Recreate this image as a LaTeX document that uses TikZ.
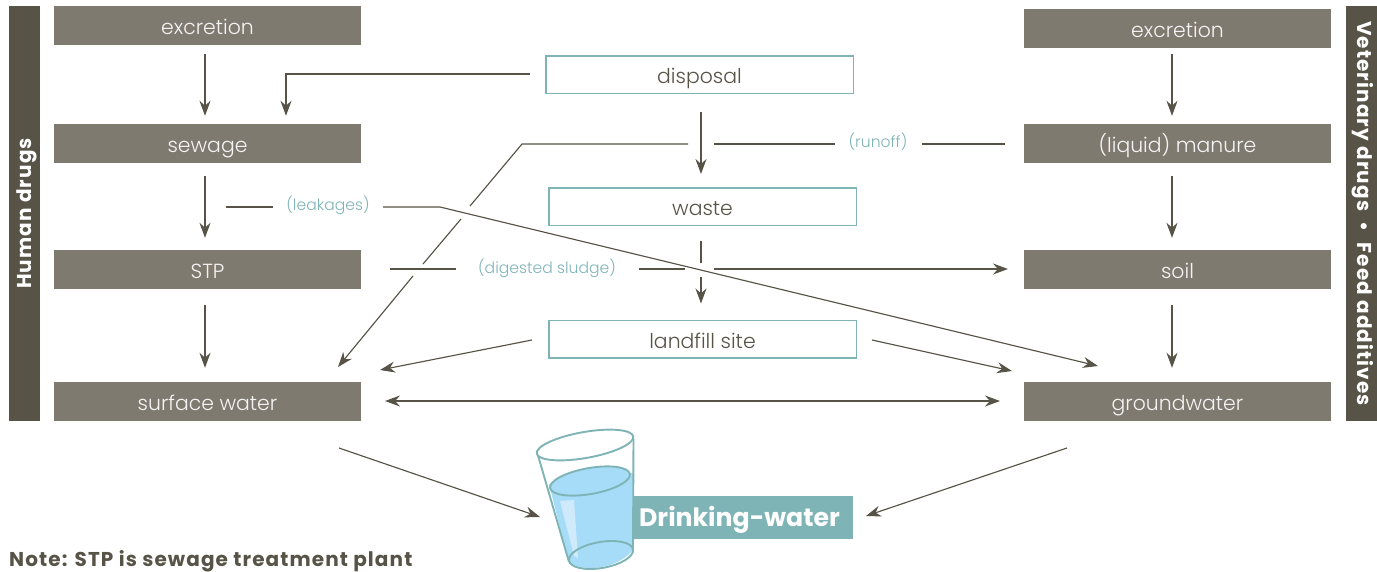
\documentclass[tikz,border=0pt]{standalone}
\usepackage{fontspec}
\setmainfont{Poppins}[UprightFont=* Light,BoldFont=* Bold]
\newfontfamily\widebold{Poppins}[UprightFont=* Bold,LetterSpace=5.5]
\usetikzlibrary{arrows.meta}
\definecolor{boxgray}{HTML}{7F7A70}
\definecolor{sidegray}{HTML}{575347}
\definecolor{lineg}{HTML}{575347}
\definecolor{teal}{HTML}{7FB4B6}
\definecolor{water}{HTML}{A6DCF8}
\definecolor{shine}{HTML}{CFEBFB}
\tikzset{
  gbox/.style={fill=boxgray,text=white!92!boxgray,minimum width=307pt,minimum height=39pt,inner sep=0pt,text height=23pt,text depth=5pt,font=\fontsize{20.4}{25}\selectfont},
  wbox/.style={draw=teal,line width=1.5pt,fill=white,text=lineg,minimum width=307.5pt,minimum height=37.5pt,inner sep=0pt,text height=23pt,text depth=5pt,font=\fontsize{20.4}{25}\selectfont},
  sidebar/.style={fill=sidegray,text=white,rotate=90,minimum width=415pt,minimum height=31pt,inner sep=0pt,font=\fontsize{20}{24}\selectfont\widebold},
  lab/.style={text=teal,inner sep=0pt,font=\fontsize{15.6}{20}\selectfont},
  conn/.style={draw=lineg,line width=1.15pt},
  arr/.style={conn,-{Stealth[length=15pt,width=11pt]}},
  darr/.style={conn,{Stealth[length=15pt,width=11pt]}-{Stealth[length=15pt,width=11pt]}},
  glassline/.style={draw=teal,line width=1.9pt},
}
\begin{document}
\begin{tikzpicture}[x=1pt,y=-1pt]
\useasboundingbox (0,0) rectangle (1377,571);
% side bars
\node[sidebar,text height=20pt,text depth=7pt] (sideL) at (24.5,213.5) {Human drugs};
\node[sidebar,rotate=180,text height=16pt,text depth=7pt] (sideR) at (1361.5,213.5) {Veterinary drugs \ \textbullet\ \ Feed additives};
% left column
\node[gbox] (exL) at (207.5,25.5) {excretion};
\node[gbox] (seL) at (207.5,143.5) {sewage};
\node[gbox] (stp) at (207.5,269.5) {STP};
\node[gbox] (sw) at (207.5,401.5) {surface water};
% right column
\node[gbox] (exR) at (1177.5,28.5) {excretion};
\node[gbox] (man) at (1177.5,143.5) {(liquid) manure};
\node[gbox] (soil) at (1177.5,269.5) {soil};
\node[gbox] (gw) at (1177.5,401.5) {groundwater};
% centre
\node[wbox] (disp) at (699.5,74.5) {disposal};
\node[wbox] (waste) at (702.5,206.5) {waste};
\node[wbox] (land) at (702.5,339) {landfill site};
% labels
\node[lab] (runoff) at (878,142) {(runoff)};
\node[lab] (leak) at (328,205) {(leakages)};
\node[lab] (sludge) at (547,268) {(digested sludge)};
% vertical arrows
\draw[arr] ([shift={(-2.5,9)}]exL.south) -- ([shift={(-2.5,-8)}]seL.north);
\draw[arr] ([shift={(-2.5,13)}]seL.south) -- ([shift={(-2.5,-12)}]stp.north);
\draw[arr] ([shift={(-2.5,16)}]stp.south) -- ([shift={(-2.5,-14)}]sw.north);
\draw[arr] ([shift={(-5.5,6)}]exR.south) -- ([shift={(-5.5,-8)}]man.north);
\draw[arr] ([shift={(-5.5,13)}]man.south) -- ([shift={(-5.5,-12)}]soil.north);
\draw[arr] ([shift={(-5.5,16)}]soil.south) -- ([shift={(-5.5,-14)}]gw.north);
% disposal to sewage
\coordinate (dispOut) at (530,74);
\coordinate (dsCorner) at (286,74);
\draw[arr] (dispOut) -- (dsCorner) -- ([shift={(78.5,-8)}]seL.north);
% disposal to waste
\draw[arr] ([shift={(1.5,18)}]disp.south) -- ([shift={(-1.5,-13)}]waste.north);
% waste to landfill (broken)
\coordinate (wlA) at (701,263);
\coordinate (wlB) at (701,277);
\draw[conn] ([shift={(-1.5,15)}]waste.south) -- (wlA);
\draw[arr] (wlB) -- ([shift={(-1.5,-16)}]land.north);
% runoff
\coordinate (roA) at (1005,144);
\coordinate (roA2) at (922,144);
\coordinate (roB) at (835,144);
\coordinate (roC) at (714,144);
\coordinate (roD) at (688,144);
\coordinate (roE) at (522,144);
\coordinate (roF) at (470,206);
\coordinate (roG) at (461,219);
\coordinate (roH) at (423,264);
\coordinate (roI) at (413,276);
\coordinate (roJ) at (338,367);
\draw[conn] (roA) -- (roA2);
\draw[conn] (roB) -- (roC);
\draw[conn] (roD) -- (roE) -- (roF);
\draw[conn] (roG) -- (roH);
\draw[arr] (roI) -- (roJ);
% leakages
\coordinate (leA) at (226,207);
\coordinate (leB) at (273,207);
\coordinate (leC) at (383,207);
\coordinate (leD) at (440,207);
\coordinate (leE) at (1098,366);
\draw[conn] (leA) -- (leB);
\draw[arr] (leC) -- (leD) -- (leE);
% digested sludge
\coordinate (dsA) at (389.5,269);
\coordinate (dsB) at (456,269);
\coordinate (dsC) at (638.5,269);
\coordinate (dsD) at (685,269);
\coordinate (dsE) at (714,269);
\coordinate (dsF) at (1008,269);
\draw[conn] (dsA) -- (dsB);
\draw[conn] (dsC) -- (dsD);
\draw[arr] (dsE) -- (dsF);
% landfill out
\coordinate (lfL) at (532,340);
\coordinate (lfLe) at (380,370);
\coordinate (lfR) at (872,340);
\coordinate (lfRe) at (1012,371);
\draw[arr] (lfL) -- (lfLe);
\draw[arr] (lfR) -- (lfRe);
% surface <-> ground
\coordinate (swE) at (385,401);
\coordinate (gwW) at (1000,401);
\draw[darr] (swE) -- (gwW);
% drinking water box
\node[fill=teal,text=white,minimum width=220pt,minimum height=43pt,inner sep=0pt,text height=26pt,text depth=8pt,font=\fontsize{25.2}{28}\selectfont\bfseries] (dw) at (743,517.5) {\hspace{-7pt}Drinking-water};
% glass
\fill[water] (549,484) -- (568,560) .. controls (575,572) and (615,572) .. (633,550) -- (633,473) -- cycle;
\fill[shine] (560,501) -- (574,500) -- (578,558) -- (574,556) -- cycle;
\draw[glassline,fill=water] (590,481) ellipse [x radius=40.5,y radius=13,rotate=10];
\draw[glassline] (601,555) ellipse [x radius=32.5,y radius=13,rotate=10];
\draw[glassline] (537,452) -- (569,562);
\draw[glassline] (633.5,438) -- (633,550);
\draw[glassline,fill=white] (585,445) ellipse [x radius=49,y radius=13,rotate=10];
% drink arrows
\coordinate (swOut) at (339,448);
\coordinate (swTip) at (540,517);
\coordinate (gwOut) at (1067,448);
\coordinate (gwTip) at (866,516);
\draw[arr] (swOut) -- (swTip);
\draw[arr] (gwOut) -- (gwTip);
% note
\node[anchor=west,inner sep=0pt,text=sidegray,font=\fontsize{20}{24}\selectfont\widebold] (note) at (9,561) {Note: STP is sewage treatment plant};
\end{tikzpicture}
\end{document}
